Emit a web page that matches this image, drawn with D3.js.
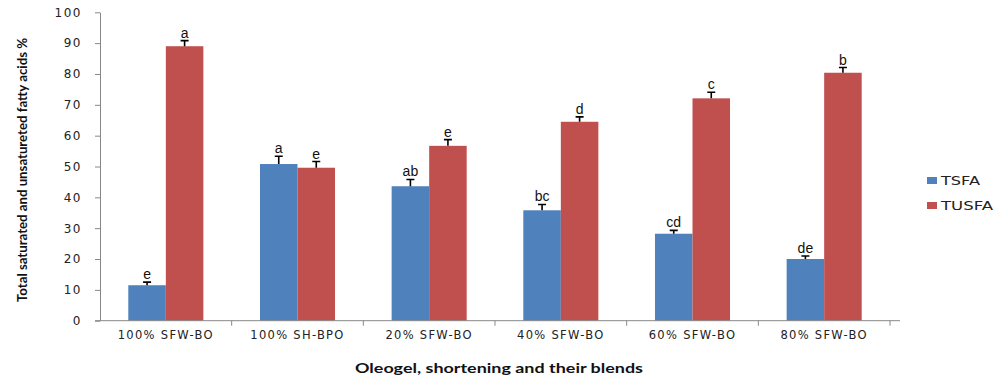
<!DOCTYPE html>
<html><head><meta charset="utf-8">
<script src="https://cdn.jsdelivr.net/npm/d3@7"></script>
<style>body{margin:0;background:#fff}</style>
</head><body><svg id="c" width="994" height="380"></svg>
<script>
const categories = ["100% SFW-BO","100% SH-BPO","20% SFW-BO","40% SFW-BO","60% SFW-BO","80% SFW-BO"];
const seriesNames = ["TSFA","TUSFA"];
const tsfa = [11.5, 50.8, 43.6, 35.8, 28.2, 20.0];
const tusfa = [89.0, 49.6, 56.7, 64.5, 72.1, 80.4];
const tsfaErr = [1.0, 2.5, 2.2, 1.9, 1.1, 1.0];
const tusfaErr = [1.8, 2.0, 2.0, 1.6, 2.0, 1.7];
const tsfaLetters = ["e","a","ab","bc","cd","de"];
const tusfaLetters = ["a","e","e","d","c","b"];
const yTicks = [0,10,20,30,40,50,60,70,80,90,100];
const colors = {TSFA:"#4F81BD", TUSFA:"#C0504D"};

const svg = d3.select("#c");
const mLeft = 100, mRight = 890, mTop = 12.3, mBottom = 320.7;
const x = d3.scaleBand().domain(categories).range([mLeft, mRight]).padding(0);
const bw = x.bandwidth();
const x1 = d3.scaleBand().domain(seriesNames).range([bw*0.215, bw*0.785]).padding(0);
const y = d3.scaleLinear().domain([0,100]).range([mBottom, mTop]);

const data = categories.map((c,i)=>({c, vals:[
  {s:"TSFA", v:tsfa[i], e:tsfaErr[i], l:tsfaLetters[i]},
  {s:"TUSFA", v:tusfa[i], e:tusfaErr[i], l:tusfaLetters[i]}]}));

// y axis
const ya = svg.append("g").attr("transform",`translate(${mLeft},0)`)
  .call(d3.axisLeft(y).tickValues(yTicks).tickSize(5).tickSizeOuter(0).tickPadding(13));
ya.select(".domain").attr("stroke","#888");
ya.selectAll(".tick line").attr("stroke","#888");
ya.selectAll(".tick text").attr("font-family","DejaVu Sans").attr("font-size",12)
  .attr("letter-spacing","1.5px").attr("fill","#222");

// bars
const g = svg.append("g").selectAll("g").data(data).join("g")
  .attr("transform",d=>`translate(${x(d.c)},0)`);
g.selectAll("rect").data(d=>d.vals).join("rect")
  .attr("x",d=>x1(d.s)).attr("width",x1.bandwidth())
  .attr("y",d=>y(d.v)).attr("height",d=>y(0)-y(d.v))
  .attr("fill",d=>colors[d.s]);
// error bars
g.selectAll("path.err").data(d=>d.vals).join("path").attr("class","err")
  .attr("d",d=>{const cx=x1(d.s)+x1.bandwidth()/2; const t=y(d.v+d.e);
    return `M${cx},${y(d.v)}V${t}M${cx-4},${t}H${cx+4}`;})
  .attr("stroke","#000").attr("stroke-width",1.6).attr("fill","none");
g.selectAll("text").data(d=>d.vals).join("text")
  .attr("x",d=>x1(d.s)+x1.bandwidth()/2).attr("y",d=>y(d.v+d.e)-3)
  .attr("text-anchor","middle").attr("font-family","Liberation Sans").attr("font-size",14)
  .attr("fill","#111").text(d=>d.l);

// x axis
svg.append("line").attr("x1",mLeft-5).attr("x2",mRight+10).attr("y1",y(0)).attr("y2",y(0)).attr("stroke","#888");
const bounds = categories.map(c=>x(c)).concat([x(categories[categories.length-1])+bw]);
svg.append("g").selectAll("line").data(bounds.slice(1)).join("line")
  .attr("x1",d=>d).attr("x2",d=>d).attr("y1",y(0)).attr("y2",y(0)+5).attr("stroke","#888");
svg.append("g").selectAll("text").data(categories).join("text")
  .attr("x",d=>x(d)+bw/2).attr("y",339).attr("text-anchor","middle")
  .attr("font-family","DejaVu Sans").attr("font-size",11.5).attr("letter-spacing","1.3px")
  .attr("fill","#222").text(d=>d);

// titles
svg.append("text").attr("x",499).attr("y",373).attr("text-anchor","middle")
  .attr("font-family","Lato").attr("font-weight","bold").attr("font-size",13)
  .attr("textLength",288).attr("lengthAdjust","spacingAndGlyphs").attr("fill","#111")
  .text("Oleogel, shortening and their blends");
svg.append("text").attr("transform","translate(27,170) rotate(-90)").attr("text-anchor","middle")
  .attr("font-family","Lato").attr("font-weight","bold").attr("font-size",13.5)
  .attr("textLength",264).attr("lengthAdjust","spacingAndGlyphs").attr("fill","#111")
  .text("Total saturated and unsatureted fatty acids %");

// legend
const lg = svg.append("g").selectAll("g").data(seriesNames).join("g")
  .attr("transform",(d,i)=>`translate(927,${177+i*25})`);
lg.append("rect").attr("width",10).attr("height",7).attr("fill",d=>colors[d]);
lg.append("text").attr("x",14).attr("y",8).attr("font-family","DejaVu Sans").attr("font-size",12)
  .attr("textLength",d=>d==="TSFA"?39:52).attr("lengthAdjust","spacingAndGlyphs")
  .attr("fill","#222").text(d=>d);
</script></body></html>
